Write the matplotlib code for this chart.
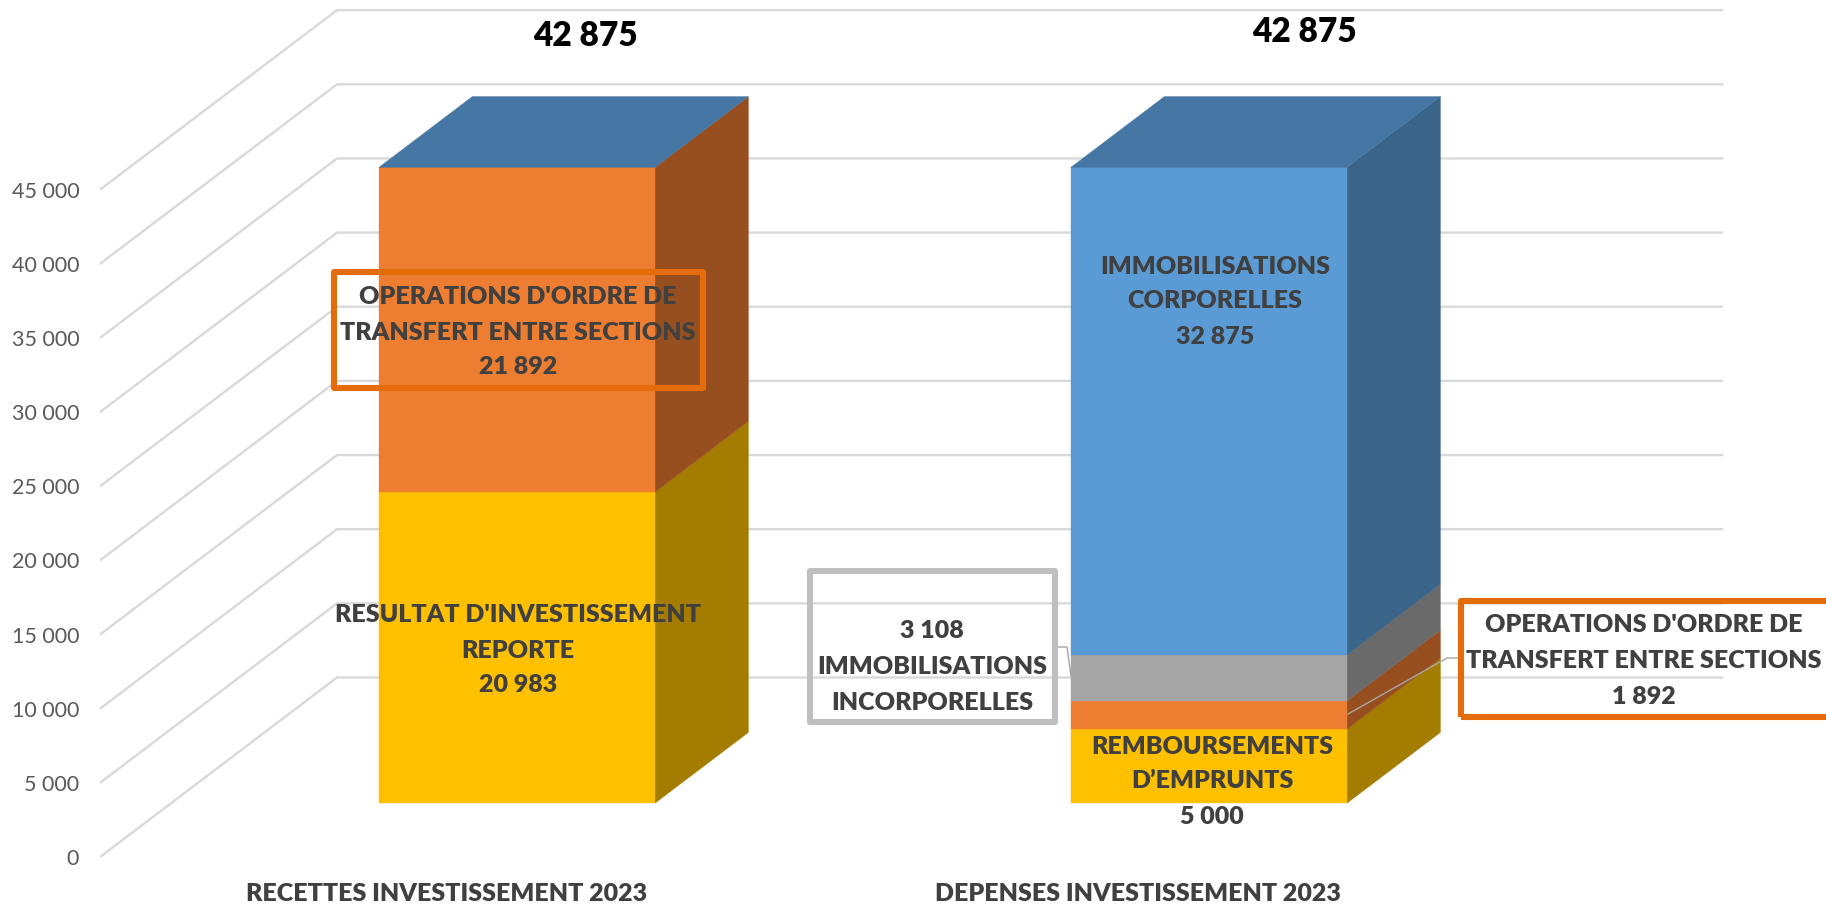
import matplotlib
matplotlib.use("Agg")
import matplotlib.pyplot as plt
from matplotlib.patches import Polygon, Rectangle

plt.rcParams['font.family'] = ['Lato', 'DejaVu Sans']

# Donnees
categories = ["RECETTES INVESTISSEMENT 2023", "DEPENSES INVESTISSEMENT 2023"]
totaux = [42875, 42875]
recettes = [20983, 21892]
depenses = [5000, 1892, 3108, 32875]
couleurs_recettes = ["jaune", "orange"]
couleurs_depenses = ["jaune", "orange", "gris", "bleu"]
graduations = [0, 5000, 10000, 15000, 20000, 25000, 30000, 35000, 40000, 45000]
etiquettes = ["0", "5 000", "10 000", "15 000", "20 000", "25 000", "30 000", "35 000", "40 000", "45 000"]

face = {"jaune": "#FFC000", "orange": "#ED7D31", "gris": "#A5A5A5", "bleu": "#5B9BD5"}
cote = {"jaune": "#A47C00", "orange": "#984F1F", "gris": "#6A6A6A", "bleu": "#3A6488"}
dessus = "#4676A3"
gris_texte = "#404040"

W, H = 1826, 907
Y0 = 857            # pixel du zero sur le bord avant
PX_UNITE = 0.01483  # pixels par unite de valeur

# Perspective : decalage du mur du fond
FOND_DX = 237
FOND_DY = 179.5 / PX_UNITE
# Barres : plan avant et plan arriere dans la profondeur
BARRE_AVANT = 0.300
BARRE_ARRIERE = 0.694
BARRE_G = 379 - FOND_DX * BARRE_AVANT
BARRE_L = 276
BARRE_PAS = 692


def val(py):
    return (Y0 - py) / PX_UNITE


def proj(x, v, d):
    return (x + FOND_DX * d, v + FOND_DY * d)


fig = plt.figure(figsize=(W / 100, H / 100), dpi=100)
ax = fig.add_axes([100 / W, (H - Y0) / H, (W - 100) / W, Y0 / H])
ax.set_xlim(100, W)
ax.set_ylim(0, val(0))
for s in ax.spines.values():
    s.set_visible(False)

ax.set_yticks(graduations)
ax.set_yticklabels(etiquettes, fontsize=15.5, color="#595959")
ax.tick_params(axis='y', length=0, pad=15)
ax.set_xticks([447, 1138])
ax.set_xticklabels(categories, fontsize=18, fontweight='heavy', color=gris_texte)
ax.tick_params(axis='x', length=0, pad=18.5)

# Quadrillage : mur de gauche puis mur du fond
for g in graduations:
    xa, ya = proj(100, g, 0)
    xb, yb = proj(100, g, 1)
    ax.plot([xa, xb, 1722], [ya, yb, yb], color="#D9D9D9", lw=1.7, zorder=1, solid_joinstyle='miter')


def barre(i, valeurs, noms):
    g = BARRE_G + i * BARRE_PAS
    d = g + BARRE_L
    bas = 0
    for v, nom in zip(valeurs, noms):
        haut = bas + v
        av = [proj(g, bas, BARRE_AVANT), proj(d, bas, BARRE_AVANT), proj(d, haut, BARRE_AVANT), proj(g, haut, BARRE_AVANT)]
        la = [proj(d, bas, BARRE_AVANT), proj(d, bas, BARRE_ARRIERE), proj(d, haut, BARRE_ARRIERE), proj(d, haut, BARRE_AVANT)]
        ax.add_patch(Polygon(la, fc=cote[nom], ec=cote[nom], lw=0.3, zorder=2))
        ax.add_patch(Polygon(av, fc=face[nom], ec=face[nom], lw=0.3, zorder=3))
        bas = haut
    dd = [proj(g, bas, BARRE_AVANT), proj(d, bas, BARRE_AVANT), proj(d, bas, BARRE_ARRIERE), proj(g, bas, BARRE_ARRIERE)]
    ax.add_patch(Polygon(dd, fc=dessus, ec=dessus, lw=0.3, zorder=3))


barre(0, recettes, couleurs_recettes)
barre(1, depenses, couleurs_depenses)


def texte(x, y, s, taille=18, couleur=gris_texte):
    ax.text(x, val(y + 1.5), s, ha='center', va='center', fontsize=taille, fontweight='heavy',
            color=couleur, zorder=6)


def cadre(x0, y0, x1, y1, couleur):
    ax.add_patch(Rectangle((x0 + 2.75, val(y1 - 2.75)), x1 - x0 - 5.5, val(y0 + 2.75) - val(y1 - 2.75),
                           fc='none', ec=couleur, lw=4.4, zorder=5, joinstyle='round', clip_on=False))


# Totaux au dessus des barres
texte(585, 34, f"{totaux[0]:,}".replace(",", " "), 24, "#000000")
texte(1304, 31, f"{totaux[1]:,}".replace(",", " "), 24, "#000000")

# Etiquettes barre recettes
cadre(331, 269, 706, 391, "#E46C0A")
texte(518, 295, "OPERATIONS D'ORDRE DE")
texte(518, 331, "TRANSFERT ENTRE SECTIONS")
texte(518, 366, "21 892")
texte(518, 613, "RESULTAT D'INVESTISSEMENT")
texte(518, 649, "REPORTE")
texte(518, 684, "20 983")

# Etiquettes barre depenses
texte(1215, 265, "IMMOBILISATIONS")
texte(1215, 300, "CORPORELLES")
texte(1215, 336, "32 875")
texte(1212, 745, "REMBOURSEMENTS")
texte(1212, 780, "D\u2019EMPRUNTS")
texte(1212, 816, "5 000")

# Traits de rappel et encadres
ax.plot([1058, 1067, 1071], [val(647), val(647), val(676)], color="#A6A6A6", lw=1, zorder=4)
ax.plot([1458, 1447, 1348], [val(658), val(658), val(714)], color="#A6A6A6", lw=1, zorder=4)

cadre(807, 568, 1058, 725, "#BFBFBF")
texte(932, 629, "3 108")
texte(932, 666, "IMMOBILISATIONS")
texte(932, 702, "INCORPORELLES")

cadre(1458, 598, 1840, 720, "#E46C0A")
texte(1644, 623, "OPERATIONS D'ORDRE DE")
texte(1644, 660, "TRANSFERT ENTRE SECTIONS")
texte(1644, 696, "1 892")

fig.savefig("out.png", dpi=100, facecolor="white")
